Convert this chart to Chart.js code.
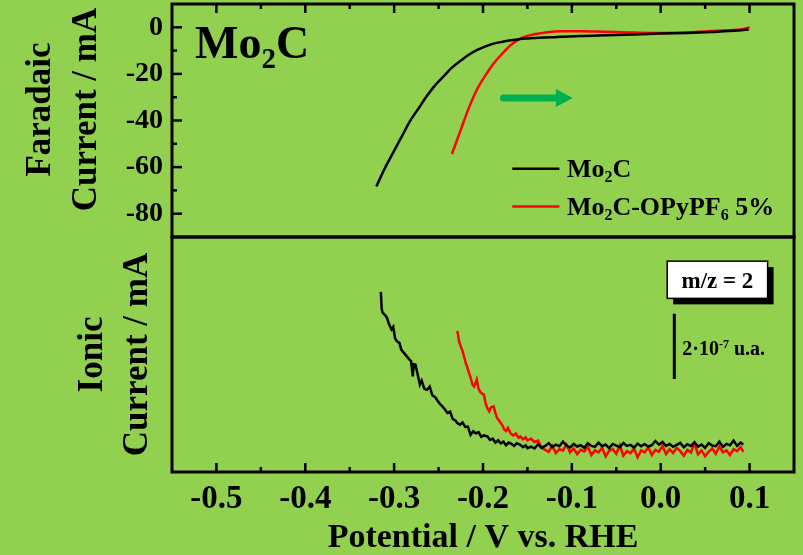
<!DOCTYPE html>
<html>
<head>
<meta charset="utf-8">
<script src="https://cdn.jsdelivr.net/npm/chart.js@4.4.1/dist/chart.umd.min.js"></script>
<style>
  html, body { margin: 0; padding: 0; background: #92d050; }
  #wrap { position: relative; width: 803px; height: 555px; overflow: hidden; }
  #topChart { position: absolute; left: 0; top: 0; }
  #botChart { position: absolute; left: 0; top: 230px; }
</style>
</head>
<body>
<div id="wrap">
  <canvas id="topChart" width="803" height="240"></canvas>
  <canvas id="botChart" width="803" height="325"></canvas>
</div>
<script>
// --- axis ticks ---
const xTicks = [-0.5, -0.4, -0.3, -0.2, -0.1, 0.0, 0.1];
const xMinorTicks = [-0.45, -0.35, -0.25, -0.15, -0.05, 0.05];
const yTicks = [0, -20, -40, -60, -80];
const yMinorTicks = [-10, -30, -50, -70];

// --- faradaic current (mA) vs potential (V vs RHE) ---
const farBlackV = [-0.320, -0.311, -0.301, -0.291, -0.282, -0.272, -0.263, -0.254, -0.244, -0.235, -0.225, -0.216, -0.207, -0.197, -0.188, -0.178, -0.169, -0.160, -0.150, -0.131, -0.112, -0.090, -0.060, -0.030, 0.000, 0.030, 0.057, 0.087, 0.099];
const farBlackI = [-68.3, -60.9, -53.7, -46.6, -40.2, -34.5, -29.4, -24.9, -20.9, -17.3, -14.3, -11.8, -9.8, -8.2, -7.0, -6.2, -5.6, -5.1, -4.8, -4.4, -4.1, -3.7, -3.4, -3.1, -2.7, -2.4, -2.0, -1.4, -0.9];
const farRedV = [-0.235, -0.225, -0.216, -0.207, -0.197, -0.188, -0.178, -0.169, -0.160, -0.150, -0.141, -0.131, -0.112, -0.090, -0.065, -0.037, -0.010, 0.019, 0.040, 0.057, 0.075, 0.087, 0.097, 0.100];
const farRedI = [-54.4, -44.0, -34.7, -26.9, -20.5, -15.5, -11.2, -7.7, -5.3, -3.7, -2.9, -2.3, -1.7, -1.7, -1.9, -2.2, -2.4, -2.3, -2.0, -1.6, -1.3, -1.0, -0.4, 0.1];

// --- ionic current m/z = 2 (units of 1e-7) ---
const ionBlackHeadV = [-0.315, -0.314, -0.313, -0.310, -0.308, -0.306, -0.303, -0.301, -0.299, -0.297, -0.294, -0.292, -0.289, -0.286, -0.283, -0.281, -0.279, -0.278, -0.276, -0.274, -0.271, -0.269, -0.266, -0.263, -0.260, -0.257, -0.254, -0.252, -0.249, -0.246, -0.243, -0.240, -0.237, -0.234, -0.231, -0.229, -0.226, -0.223, -0.220, -0.217, -0.214, -0.211, -0.208, -0.205, -0.202, -0.199, -0.195, -0.192, -0.189, -0.186, -0.183, -0.180, -0.177, -0.174, -0.171, -0.168, -0.165, -0.162, -0.158, -0.155, -0.152, -0.150];
const ionBlackHeadS = [5.52, 5.00, 4.88, 4.80, 4.72, 4.55, 4.37, 4.45, 4.10, 4.01, 3.95, 3.75, 3.65, 3.55, 3.45, 3.40, 2.93, 3.30, 3.29, 3.05, 2.68, 2.80, 2.55, 2.52, 2.62, 2.35, 2.30, 2.22, 2.10, 2.02, 1.92, 1.81, 1.85, 1.62, 1.58, 1.50, 1.45, 1.52, 1.38, 1.39, 1.14, 1.25, 1.18, 1.22, 1.08, 1.12, 1.09, 0.98, 1.02, 0.90, 0.97, 0.88, 0.93, 0.82, 0.90, 0.86, 0.80, 0.88, 0.83, 0.76, 0.82, 0.73];
const ionRedHeadV = [-0.229, -0.228, -0.227, -0.225, -0.223, -0.221, -0.219, -0.218, -0.216, -0.214, -0.212, -0.210, -0.208, -0.207, -0.205, -0.203, -0.201, -0.199, -0.197, -0.195, -0.193, -0.191, -0.188, -0.186, -0.184, -0.182, -0.180, -0.178, -0.176, -0.174, -0.172, -0.169, -0.166, -0.163, -0.160, -0.158, -0.155, -0.152, -0.150];
const ionRedHeadS = [4.32, 4.20, 4.01, 3.85, 3.70, 3.50, 3.30, 3.24, 3.05, 2.90, 2.70, 2.62, 2.75, 2.83, 2.55, 2.45, 2.40, 2.37, 2.10, 1.95, 1.86, 1.98, 2.01, 1.80, 1.65, 1.58, 1.50, 1.42, 1.30, 1.26, 1.35, 1.19, 1.12, 1.18, 1.05, 1.09, 1.00, 1.06, 0.97];
const flatV = [-0.146, -0.142, -0.138, -0.134, -0.130, -0.126, -0.122, -0.118, -0.114, -0.110, -0.106, -0.102, -0.098, -0.094, -0.090, -0.086, -0.082, -0.078, -0.074, -0.070, -0.066, -0.062, -0.058, -0.054, -0.050, -0.046, -0.042, -0.038, -0.034, -0.030, -0.026, -0.022, -0.018, -0.014, -0.010, -0.006, -0.002, 0.002, 0.006, 0.010, 0.014, 0.018, 0.022, 0.026, 0.030, 0.034, 0.038, 0.042, 0.046, 0.050, 0.054, 0.058, 0.062, 0.066, 0.070, 0.074, 0.078, 0.082, 0.086, 0.090, 0.093];
const ionBlackFlatS = [0.78, 0.72, 0.85, 0.74, 0.80, 0.88, 0.76, 0.84, 0.79, 0.93, 0.81, 0.75, 0.86, 0.78, 0.82, 0.74, 0.88, 0.80, 0.77, 0.90, 0.79, 0.84, 0.73, 0.86, 0.81, 0.76, 0.89, 0.80, 0.83, 0.75, 0.87, 0.79, 0.85, 0.78, 0.82, 0.95, 0.84, 0.92, 0.80, 0.86, 0.77, 0.83, 0.89, 0.76, 0.85, 0.80, 0.91, 0.78, 0.84, 0.74, 0.88, 0.81, 0.79, 0.93, 0.77, 0.86, 0.82, 0.96, 0.80, 0.90, 0.84];
const ionRedFlatS = [1.02, 0.92, 0.96, 0.74, 0.68, 0.62, 0.80, 0.58, 0.70, 0.66, 0.84, 0.60, 0.72, 0.55, 0.68, 0.63, 0.78, 0.52, 0.66, 0.60, 0.74, 0.48, 0.65, 0.70, 0.56, 0.82, 0.50, 0.64, 0.58, 0.72, 0.45, 0.66, 0.60, 0.76, 0.52, 0.68, 0.62, 0.80, 0.55, 0.70, 0.58, 0.74, 0.64, 0.50, 0.68, 0.60, 0.88, 0.54, 0.66, 0.48, 0.62, 0.72, 0.56, 0.78, 0.60, 0.66, 0.52, 0.70, 0.64, 0.76, 0.62];

const SERIF = "'Liberation Serif', 'Times New Roman', serif";
const GREEN = '#00b050';

function pts(xs, ys) {
    return xs.map((v, i) => ({ x: v, y: ys[i] }));
}

// draw text made of pieces: [text, 0 normal | 1 subscript | -1 superscript]
function richText(ctx, parts, x, y, size, align) {
    const fontOf = m => 'bold ' + (m ? Math.round(size * 0.62) : size) + 'px ' + SERIF;
    let w = 0;
    parts.forEach(([t, m]) => { ctx.font = fontOf(m); w += ctx.measureText(t).width; });
    let cx = align === 'center' ? x - w / 2 : x;
    ctx.textAlign = 'left';
    ctx.textBaseline = 'alphabetic';
    ctx.fillStyle = '#000';
    parts.forEach(([t, m]) => {
        ctx.font = fontOf(m);
        const dy = m === 1 ? size * 0.22 : (m === -1 ? -size * 0.38 : 0);
        ctx.fillText(t, cx, y + dy);
        cx += ctx.measureText(t).width;
    });
}

// box around the plot area plus inward tick marks
const framePlugin = {
    id: 'frame',
    afterDatasetsDraw(chart, args, opts) {
        const { ctx, chartArea: a } = chart;
        const sx = chart.scales.x, sy = chart.scales.y;
        ctx.save();
        ctx.strokeStyle = '#000';
        ctx.lineWidth = 3;
        ctx.strokeRect(a.left, a.top, a.right - a.left, a.bottom - a.top);
        ctx.lineWidth = 2.5;
        const seg = (x1, y1, x2, y2) => { ctx.beginPath(); ctx.moveTo(x1, y1); ctx.lineTo(x2, y2); ctx.stroke(); };
        if (opts.xEdge) {
            const edge = opts.xEdge === 'top' ? a.top : a.bottom;
            const dir = opts.xEdge === 'top' ? 1 : -1;
            xTicks.forEach(v => { const p = sx.getPixelForValue(v); seg(p, edge, p, edge + dir * 9); });
            xMinorTicks.forEach(v => { const p = sx.getPixelForValue(v); seg(p, edge, p, edge + dir * 5); });
        }
        if (opts.yLeft) {
            yTicks.forEach(v => { const p = sy.getPixelForValue(v); seg(a.left, p, a.left + 10, p); });
            yMinorTicks.forEach(v => { const p = sy.getPixelForValue(v); seg(a.left, p, a.left + 5, p); });
        }
        ctx.restore();
    }
};

const topNotes = {
    id: 'topNotes',
    afterDatasetsDraw(chart) {
        const { ctx, chartArea: a } = chart;
        const sx = chart.scales.x, sy = chart.scales.y;
        ctx.save();
        // y axis title (two lines, rotated), sits a little above the panel centre
        ctx.save();
        ctx.translate(0, (a.top + a.bottom) / 2 - 11);
        ctx.rotate(-Math.PI / 2);
        ctx.font = 'bold 35px ' + SERIF;
        ctx.fillStyle = '#000';
        ctx.textAlign = 'center';
        ctx.textBaseline = 'middle';
        ctx.fillText('Faradaic', 0, 41);
        ctx.fillText('Current / mA', 0, 87);
        ctx.restore();

        // panel label
        richText(ctx, [['Mo', 0], ['2', 1], ['C', 0]], sx.getPixelForValue(-0.524), sy.getPixelForValue(-13.2), 46);

        // green arrow
        const ay = sy.getPixelForValue(-30.3);
        const a0 = sx.getPixelForValue(-0.177), a1 = sx.getPixelForValue(-0.118), a2 = sx.getPixelForValue(-0.099);
        ctx.strokeStyle = GREEN;
        ctx.fillStyle = GREEN;
        ctx.lineWidth = 7;
        ctx.lineCap = 'round';
        ctx.beginPath(); ctx.moveTo(a0, ay); ctx.lineTo(a1 + 2, ay); ctx.stroke();
        ctx.beginPath(); ctx.moveTo(a1, ay - 9); ctx.lineTo(a2, ay); ctx.lineTo(a1, ay + 9); ctx.closePath(); ctx.fill();

        // legend
        ctx.lineCap = 'butt';
        ctx.lineWidth = 2.5;
        const l0 = sx.getPixelForValue(-0.167), l1 = sx.getPixelForValue(-0.114), tx = sx.getPixelForValue(-0.1056);
        const rows = [
            { color: '#000', y: -60.7, base: -64.1, parts: [['Mo', 0], ['2', 1], ['C', 0]] },
            { color: '#ff0000', y: -76.9, base: -80.4, parts: [['Mo', 0], ['2', 1], ['C-OPyPF', 0], ['6', 1], [' 5%', 0]] }
        ];
        rows.forEach(r => {
            const py = sy.getPixelForValue(r.y);
            ctx.strokeStyle = r.color;
            ctx.beginPath(); ctx.moveTo(l0, py); ctx.lineTo(l1, py); ctx.stroke();
            richText(ctx, r.parts, tx, sy.getPixelForValue(r.base), 26);
        });
        ctx.restore();
    }
};

const botNotes = {
    id: 'botNotes',
    afterDatasetsDraw(chart) {
        const { ctx } = chart;
        const sx = chart.scales.x, sy = chart.scales.y;
        ctx.save();
        // m/z box with drop shadow
        const bx0 = sx.getPixelForValue(0.0073), bx1 = sx.getPixelForValue(0.1203);
        const by0 = sy.getPixelForValue(6.46), by1 = sy.getPixelForValue(5.32);
        ctx.fillStyle = '#000';
        ctx.fillRect(bx0 + 6, by0 + 6, bx1 - bx0, by1 - by0);
        ctx.fillStyle = '#fff';
        ctx.fillRect(bx0, by0, bx1 - bx0, by1 - by0);
        ctx.strokeStyle = '#000';
        ctx.lineWidth = 1.5;
        ctx.strokeRect(bx0, by0, bx1 - bx0, by1 - by0);
        richText(ctx, [['m/z = 2', 0]], (bx0 + bx1) / 2, (by0 + by1) / 2 + 8, 23, 'center');

        // scale bar
        const sbx = sx.getPixelForValue(0.0153);
        ctx.lineWidth = 3;
        ctx.beginPath(); ctx.moveTo(sbx, sy.getPixelForValue(4.85)); ctx.lineTo(sbx, sy.getPixelForValue(2.85)); ctx.stroke();
        richText(ctx, [['2\u00b710', 0], ['-7', -1], [' u.a.', 0]], sx.getPixelForValue(0.0243), sy.getPixelForValue(3.57), 20);
        ctx.restore();
    }
};

const axisFont = (size, lh) => ({ family: SERIF, size: size, weight: 'bold', lineHeight: lh || 1.2 });

new Chart(document.getElementById('topChart'), {
    type: 'line',
    data: {
        datasets: [
            { label: 'Mo2C', data: pts(farBlackV, farBlackI), borderColor: '#000', borderWidth: 2.5, pointRadius: 0, cubicInterpolationMode: 'monotone' },
            { label: 'Mo2C-OPyPF6 5%', data: pts(farRedV, farRedI), borderColor: '#ff0000', borderWidth: 2.5, pointRadius: 0, cubicInterpolationMode: 'monotone' }
        ]
    },
    options: {
        responsive: false,
        animation: false,
        devicePixelRatio: 1,
        layout: { padding: { top: 4, bottom: 3, right: 9, left: 0 } },
        plugins: {
            legend: { display: false },
            tooltip: { enabled: false },
            frame: { xEdge: 'top', yLeft: true }
        },
        scales: {
            x: { type: 'linear', min: -0.55, max: 0.15, display: false },
            y: {
                min: -90, max: 10,
                afterBuildTicks: s => { s.ticks = yTicks.map(v => ({ value: v })); },
                afterFit: s => { s.width = 172; s.paddingTop = 0; s.paddingBottom = 0; },
                grid: { display: false, drawTicks: false },
                border: { display: false },
                ticks: { color: '#000', font: axisFont(28), padding: 9 },
                title: { display: false }
            }
        }
    },
    plugins: [framePlugin, topNotes]
});

new Chart(document.getElementById('botChart'), {
    type: 'line',
    data: {
        datasets: [
            { label: 'Mo2C', data: pts(ionBlackHeadV.concat(flatV), ionBlackHeadS.concat(ionBlackFlatS)), borderColor: '#000', borderWidth: 2.5, pointRadius: 0, tension: 0 },
            { label: 'Mo2C-OPyPF6 5%', data: pts(ionRedHeadV.concat(flatV), ionRedHeadS.concat(ionRedFlatS)), borderColor: '#ff0000', borderWidth: 2.5, pointRadius: 0, tension: 0 }
        ]
    },
    options: {
        responsive: false,
        animation: false,
        devicePixelRatio: 1,
        layout: { padding: { top: 7, bottom: 0, right: 9, left: 0 } },
        plugins: {
            legend: { display: false },
            tooltip: { enabled: false },
            frame: { xEdge: 'bottom', yLeft: false }
        },
        scales: {
            x: {
                type: 'linear', min: -0.55, max: 0.15,
                afterBuildTicks: s => { s.ticks = xTicks.map(v => ({ value: v })); },
                afterFit: s => { s.height = 83; s.paddingLeft = 0; s.paddingRight = 0; },
                grid: { display: false, drawTicks: false },
                border: { display: false },
                ticks: { color: '#000', font: axisFont(33), padding: 8, maxRotation: 0, callback: v => v.toFixed(1) },
                title: { display: true, text: 'Potential / V vs. RHE', color: '#000', font: axisFont(34, 1.0), padding: { top: 0, bottom: 0 } }
            },
            y: {
                min: 0, max: 7.2,
                afterFit: s => { s.width = 172; s.paddingTop = 0; s.paddingBottom = 0; },
                grid: { display: false, drawTicks: false },
                border: { display: false },
                ticks: { display: false },
                title: { display: true, text: ['Ionic', 'Current / mA'], color: '#000', font: axisFont(35, 1.3), padding: { top: 70, bottom: 0 } }
            }
        }
    },
    plugins: [framePlugin, botNotes]
});
</script>
</body>
</html>
